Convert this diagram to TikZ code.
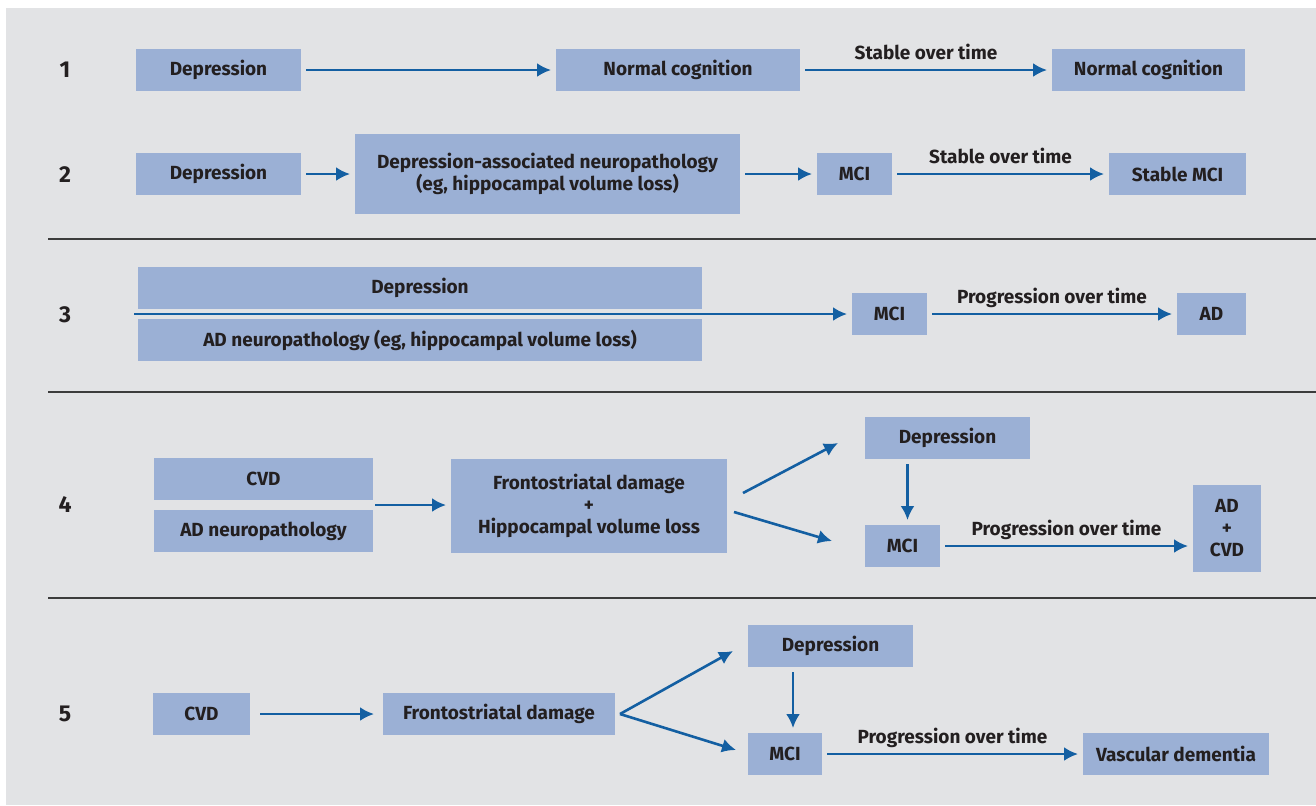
\documentclass[tikz,border=0pt]{standalone}
\usepackage{fontspec}
\setmainfont{Fira Sans}
\usetikzlibrary{arrows.meta, calc, positioning}
\definecolor{panelGrey}{HTML}{E2E3E5}
\definecolor{boxBlue}{HTML}{9BB0D5}
\definecolor{arrowBlue}{HTML}{135FA2}
\definecolor{textDark}{HTML}{231F20}
\definecolor{sepGrey}{HTML}{3C3C3C}
\tikzset{
    blueBox/.style 2 args={rectangle, fill=boxBlue, text=textDark, align=center, inner sep=0pt, outer sep=2.5pt,
        font=\bfseries\fontsize{9.5}{11}\selectfont, minimum width=#1*0.5pt, minimum height=#2*0.5pt},
    flowArrow/.style={-{Latex[length=7pt, width=7pt]}, draw=arrowBlue, line width=1.3pt},
    flowLabel/.style={midway, anchor=base, yshift=5.5pt, text=textDark, font=\bfseries\fontsize{9.5}{11}\selectfont},
    rowNum/.style={text=textDark, font=\bfseries\fontsize{11.5}{13}\selectfont},
    sepLine/.style={draw=sepGrey, line width=0.7pt},
}
\newcommand{\flowLink}[3]{
    \draw[flowArrow] (#1) -- node[flowLabel] {#3} (#2);
}
\newcommand{\plainLink}[2]{\draw[flowArrow] (#1) -- (#2);}

\begin{document}
\begin{tikzpicture}[x=0.5pt, y=-0.5pt]

        \useasboundingbox (0,0) rectangle (1316,805);
        \fill[panelGrey] (6,8) rectangle (1316,805);

        % separators
        \draw[sepLine] (48,239) -- (1316,239);
        \draw[sepLine] (48,392) -- (1316,392);
        \draw[sepLine] (48,598) -- (1316,598);

        % row 1
        \node[rowNum] (n1) at (65,70) {1};
        \node[blueBox={165}{42}] (dep1) at (218.5,70) {Depression};
        \node[blueBox={244}{42}] (nc1) at (678,70) {Normal cognition};
        \node[blueBox={193}{42}] (nc1b) at (1148.5,70) {Normal cognition};
        \plainLink{dep1}{nc1}
        \flowLink{nc1}{nc1b}{Stable over time}

        % row 2
        \node[rowNum] (n2) at (65,175) {2};
        \node[blueBox={165}{42}] (dep2) at (218.5,174) {Depression};
        \node[blueBox={385}{80}] (dan2) at (547.5,174) {Depression-associated neuropathology\\(eg, hippocampal volume loss)};
        \node[blueBox={75}{42}] (mci2) at (854.5,174) {MCI};
        \node[blueBox={137}{42}] (smci2) at (1177.5,174) {Stable MCI};
        \plainLink{dep2}{dan2}
        \plainLink{dan2}{mci2}
        \flowLink{mci2}{smci2}{Stable over time}

        % row 3
        \node[rowNum] (n3) at (65,315) {3};
        \node[blueBox={564}{42}] (dep3) at (420,288) {Depression};
        \node[blueBox={564}{42}] (adn3) at (420,340) {AD neuropathology (eg, hippocampal volume loss)};
        \node[blueBox={75}{42}] (mci3) at (889.5,314) {MCI};
        \node[blueBox={69}{42}] (ad3) at (1211.5,314) {AD};
        \coordinate (in3) at (134,314);
        \plainLink{in3}{mci3}
        \flowLink{mci3}{ad3}{Progression over time}

        % row 4
        \node[rowNum] (n4) at (65,505) {4};
        \node[blueBox={219}{42}] (cvd4) at (263.5,479) {CVD};
        \node[blueBox={219}{42}] (adn4) at (263.5,531) {AD neuropathology};
        \node[blueBox={276}{94}] (fs4) at (589,506) {Frontostriatal damage\\+\\Hippocampal volume loss};
        \node[blueBox={165}{42}] (dep4) at (947.5,438) {Depression};
        \node[blueBox={75}{42}] (mci4) at (902.5,546) {MCI};
        \node[blueBox={68}{87}] (adcvd4) at (1227,528) {AD\\+\\CVD};
        \coordinate (in4) at (375,505);
        \plainLink{in4}{fs4.west |- in4}
        \draw[flowArrow] ([shift={(11,-13)}]fs4.east) -- ([shift={(-22,5)}]dep4.west);
        \draw[flowArrow] ([shift={(2,6)}]fs4.east) -- ([shift={(-28,-5)}]mci4.west);
        \draw[flowArrow] ([xshift=2.5pt]dep4.south -| mci4.north) -- ([xshift=2.5pt]mci4.north);
        \flowLink{mci4}{adcvd4.west |- mci4}{Progression over time}

        % row 5
        \node[rowNum] (n5) at (65,714) {5};
        \node[blueBox={97}{42}] (cvd5) at (201.5,714) {CVD};
        \node[blueBox={232}{42}] (fs5) at (499,714) {Frontostriatal damage};
        \node[blueBox={165}{42}] (dep5) at (830.5,646) {Depression};
        \node[blueBox={74}{42}] (mci5) at (785,754) {MCI};
        \node[blueBox={186}{42}] (vd5) at (1176,754) {Vascular dementia};
        \draw[flowArrow] ([xshift=2.5pt]cvd5.east) -- ([xshift=-2pt]fs5.west);
        \draw[flowArrow] (fs5.east) -- ([shift={(-10,5)}]dep5.west);
        \draw[flowArrow] (fs5.east) -- ([shift={(-7,-4)}]mci5.west);
        \draw[flowArrow] ([xshift=4pt]dep5.south -| mci5.north) -- ([xshift=4pt]mci5.north);
        \flowLink{mci5}{vd5}{Progression over time}

    \end{tikzpicture}
\end{document}
